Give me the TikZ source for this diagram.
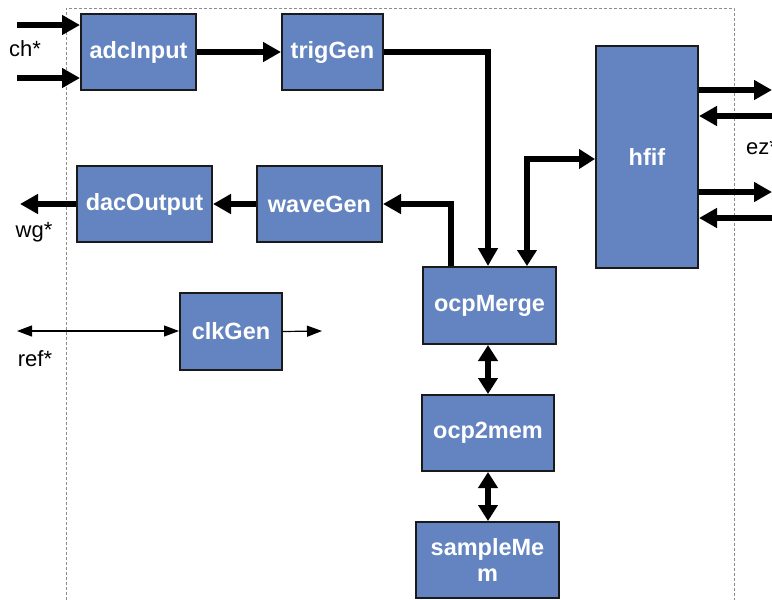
\documentclass[tikz,border=0pt]{standalone}
\usepackage{fontspec}
\setmainfont{Liberation Sans}
\usetikzlibrary{arrows.meta,calc}
\definecolor{blockblue}{HTML}{6384C0}
\definecolor{blockedge}{HTML}{1A1A1A}
\begin{document}
\begin{tikzpicture}[x=1pt,y=-1pt,
  block/.style={draw=blockedge,line width=2pt,fill=blockblue,inner sep=0pt,
    text=white,font=\fontsize{23.5}{26}\selectfont\bfseries,align=center},
  bus/.style={line width=5.5pt,-{Triangle[length=18pt,width=19pt]}},
  busboth/.style={line width=5.5pt,{Triangle[length=16pt,width=19pt]}-{Triangle[length=16pt,width=19pt]}},
  wire/.style={line width=1.2pt,-{Triangle[length=15pt,width=11pt]}},
  wireboth/.style={line width=1.2pt,{Triangle[length=15pt,width=11pt]}-{Triangle[length=15pt,width=11pt]}},
  portlabel/.style={font=\fontsize{22}{24}\selectfont,inner sep=0pt},
  frame/.style={draw=black!45,line width=0.8pt,dash pattern=on 3pt off 2pt}]
\useasboundingbox (0,0) rectangle (772,600);
\clip (0,0) rectangle (772,600);

% system boundary (open at the bottom)
\draw[frame] (66,600) -- (66,8) -- (734,8) -- (734,600);

% blocks
\node[block,minimum width=115pt,minimum height=76pt] (adc) at (138.5,52) {adcInput};
\node[block,minimum width=101pt,minimum height=76pt] (trig) at (332.5,52) {trigGen};
\node[block,minimum width=102pt,minimum height=222pt] (hfif) at (647,157) {hfif};
\node[block,minimum width=135pt,minimum height=76pt] (dac) at (144.5,204) {dacOutput};
\node[block,minimum width=125pt,minimum height=76pt] (wave) at (319.5,204) {waveGen};
\node[block,minimum width=102pt,minimum height=77pt] (clk) at (231,331.5) {clkGen};
\node[block,minimum width=133pt,minimum height=77pt] (merge) at (489.5,305.5) {ocpMerge};
\node[block,minimum width=132pt,minimum height=76pt] (o2m) at (488,433) {ocp2mem};
\node[block,minimum width=143pt,minimum height=76pt] (smem) at (487.5,560) {sampleMe\\m};

% free ends of the external ports
\coordinate (chA) at (17,25);
\coordinate (chB) at (17,78);
\coordinate (wgEnd) at (20,204);
\coordinate (refEnd) at (17,331);
\coordinate (clkOut) at (322,331);
\coordinate (ezA) at (772,90);
\coordinate (ezB) at (772,116);
\coordinate (ezC) at (772,192);
\coordinate (ezD) at (772,218);

% port labels
\node[portlabel] (chL) at (25,49) {ch*};
\node[portlabel] (wgL) at (34,232) {wg*};
\node[portlabel] (refL) at (35,359) {ref*};
\node[portlabel,anchor=west] (ezL) at (746,147) {ez*};

% connections
\draw[bus] (chA) -- (chA -| adc.west);
\draw[bus] (chB) -- (chB -| adc.west);
\draw[bus] (adc.east) -- (trig.west);
\draw[bus] (trig.east) -| ([xshift=-1.5pt]merge.north);
\draw[busboth] ([xshift=37.5pt]merge.north) |- ([yshift=-2pt]hfif.west);
\draw[bus] ([xshift=-38.5pt]merge.north) |- (wave.east);
\draw[bus] (wave.west) -- (dac.east);
\draw[bus] (dac.west) -- (wgEnd);
\draw[busboth] ([xshift=-1.5pt]merge.south) -- (o2m.north);
\draw[busboth] (o2m.south) -- ([xshift=0.5pt]smem.north);
\draw[wireboth] (refEnd) -- (refEnd -| clk.west);
\draw[wire] (clk.east) -- (clkOut);
\draw[bus] (ezA -| hfif.east) -- (ezA);
\draw[bus] (ezB) -- (ezB -| hfif.east);
\draw[bus] (ezC -| hfif.east) -- (ezC);
\draw[bus] (ezD) -- (ezD -| hfif.east);
\end{tikzpicture}
\end{document}
